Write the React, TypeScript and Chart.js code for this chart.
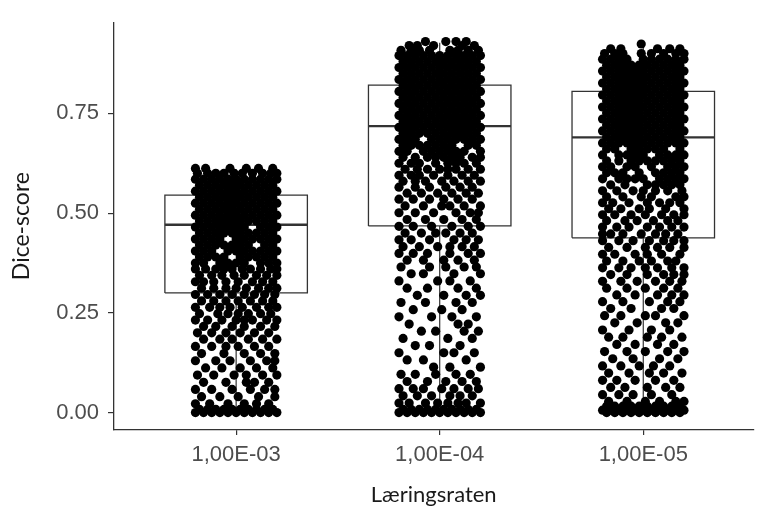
import React, { useEffect, useRef } from 'react';
import { Chart, registerables } from 'chart.js';

Chart.register(...registerables);

// ---- data ----
const categories = ['1,00E-03', '1,00E-04', '1,00E-05'];
const yTickValues = [0, 0.25, 0.5, 0.75];
const q1 = [0.3, 0.468, 0.438];
const medians = [0.471, 0.718, 0.69];
const q3 = [0.545, 0.821, 0.805];
const whiskerLow = [0, 0, 0];
const whiskerHigh = [0.61, 0.927, 0.917];

// jittered observations: each row = [Dice-score, ...horizontal jitter offsets]
const g1Rows: number[][] = [
  [.612, -.2, -.15, -.03, .05, .11, .18],
  [.6, -.19, -.14, -.1, -.06, -.01, .03, .08, .13, .17, .2],
  [.585, -.2, -.16, -.12, -.08, -.04, 0, .04, .08, .12, .16, .2],
  [.57, -.18, -.14, -.1, -.06, -.02, .02, .06, .1, .14, .18],
  [.555, -.2, -.16, -.12, -.08, -.04, 0, .04, .08, .12, .16, .2],
  [.54, -.18, -.14, -.1, -.06, -.02, .02, .06, .1, .14, .18],
  [.525, -.2, -.16, -.12, -.08, -.04, 0, .04, .08, .12, .16, .2],
  [.51, -.18, -.14, -.1, -.06, -.02, .02, .06, .1, .14, .18],
  [.495, -.2, -.16, -.12, -.08, -.04, 0, .04, .08, .12, .16, .2],
  [.48, -.18, -.14, -.1, -.06, -.02, .02, .06, .1, .14, .18],
  [.465, -.2, -.16, -.12, -.08, -.04, 0, .04, .12, .16, .2],
  [.45, -.18, -.14, -.1, -.06, -.02, .02, .06, .1, .14, .18],
  [.435, -.2, -.16, -.12, -.08, 0, .04, .08, .12, .16, .2],
  [.42, -.18, -.14, -.1, -.06, -.02, .02, .06, .14, .18],
  [.405, -.2, -.16, -.12, -.04, 0, .04, .08, .12, .16, .2],
  [.39, -.18, -.14, -.1, -.06, .02, .06, .1, .14, .18],
  [.375, -.2, -.16, -.08, -.04, 0, .04, .12, .16, .2],
  [.36, -.2, -.15, -.1, -.06, -.02, .03, .07, .12, .17, .2],
  [.344, -.18, -.12, -.07, -.01, .04, .1, .15, .2],
  [.328, -.2, -.16, -.11, -.05, .01, .08, .13, .18],
  [.312, -.17, -.11, -.05, 0, .05, .11, .16, .2],
  [.296, -.2, -.14, -.08, -.02, .04, .09, .14, .19],
  [.28, -.17, -.11, -.05, .01, .07, .13, .18],
  [.264, -.2, -.13, -.08, -.03, .03, .1, .16, .2],
  [.248, -.18, -.09, -.04, .01, .06, .12, .17],
  [.232, -.2, -.14, -.07, 0, .04, .08, .15, .2],
  [.216, -.16, -.1, -.02, .04, .12, .19],
  [.2, -.19, -.12, -.05, .02, .09, .16],
  [.184, -.16, -.08, -.02, .06, .13, .2],
  [.166, -.2, -.12, -.05, .01, .09, .16],
  [.148, -.17, -.06, .04, .12, .19],
  [.13, -.2, -.1, -.03, .07, .15, .19],
  [.112, -.15, -.07, .02, .1, .18],
  [.094, -.19, -.11, -.01, .05, .13, .2],
  [.076, -.16, -.05, .05, .09, .16],
  [.058, -.2, -.12, -.02, .07, .14, .19],
  [.04, -.17, -.08, .01, .11, .19],
  [.022, -.2, -.13, -.04, .04, .1, .16],
  [.008, -.18, -.14, -.1, -.06, -.02, .02, .06, .1, .14, .18],
  [0, -.2, -.16, -.12, -.08, -.04, 0, .04, .08, .12, .16, .2],
];

const g2Rows: number[][] = [
  [.93, -.07, .03, .08, .13],
  [.92, -.15, -.11, -.03, .11, .17],
  [.908, -.19, -.14, -.1, -.05, .05, .09, .14, .19],
  [.895, -.2, -.16, -.12, -.08, -.04, 0, .04, .08, .12, .16, .2],
  [.88, -.18, -.14, -.1, -.06, -.02, .02, .06, .1, .14, .18],
  [.865, -.2, -.16, -.12, -.08, -.04, 0, .04, .08, .12, .16, .2],
  [.85, -.18, -.14, -.1, -.06, -.02, .02, .06, .1, .14, .18],
  [.835, -.2, -.16, -.12, -.08, -.04, 0, .04, .08, .12, .16, .2],
  [.82, -.18, -.14, -.1, -.06, -.02, .02, .06, .1, .14, .18],
  [.805, -.2, -.16, -.12, -.08, -.04, 0, .04, .08, .12, .16, .2],
  [.79, -.18, -.14, -.1, -.06, -.02, .02, .06, .1, .14, .18],
  [.775, -.2, -.16, -.12, -.08, -.04, 0, .04, .08, .12, .16, .2],
  [.76, -.18, -.14, -.1, -.06, -.02, .02, .06, .1, .14, .18],
  [.745, -.2, -.16, -.12, -.08, -.04, 0, .04, .08, .12, .16, .2],
  [.73, -.18, -.14, -.1, -.06, -.02, .02, .06, .1, .14, .18],
  [.715, -.2, -.16, -.12, -.08, -.04, 0, .04, .08, .12, .16, .2],
  [.7, -.18, -.14, -.1, -.06, -.02, .02, .06, .1, .14, .18],
  [.685, -.2, -.16, -.12, -.04, 0, .04, .08, .12, .16, .2],
  [.67, -.18, -.14, -.1, -.06, -.02, .02, .06, .14, .18],
  [.655, -.2, -.16, -.08, -.04, 0, .04, .08, .12, .2],
  [.64, -.18, -.12, -.06, -.02, .02, .06, .1, .16, .2],
  [.625, -.2, -.14, -.1, -.02, .04, .08, .12, .18],
  [.61, -.17, -.11, -.06, 0, .04, .08, .14, .2],
  [.595, -.2, -.14, -.1, -.03, .04, .11, .17],
  [.58, -.18, -.12, -.07, .01, .07, .14, .2],
  [.565, -.2, -.12, -.05, .03, .1, .16],
  [.55, -.16, -.09, -.01, .06, .13, .19],
  [.535, -.2, -.13, -.05, .02, .09, .16],
  [.518, -.17, -.08, .01, .05, .12, .2],
  [.501, -.2, -.12, -.03, .08, .15, .19],
  [.484, -.16, -.07, .02, .11, .18],
  [.467, -.2, -.13, -.04, .06, .14, .2],
  [.45, -.17, -.09, -.02, .03, .1, .16],
  [.433, -.2, -.14, -.05, .07, .13, .19],
  [.416, -.18, -.1, -.01, .05, .11, .17],
  [.399, -.2, -.13, -.06, .05, .14, .2],
  [.382, -.16, -.08, .02, .09, .17],
  [.365, -.19, -.05, .03, .12, .18],
  [.348, -.14, -.08, .07, .2],
  [.33, -.2, -.01, .05, .15],
  [.312, -.16, -.06, .09, .18],
  [.294, -.11, .02, .13, .2],
  [.276, -.19, -.07, .08, .16],
  [.258, -.13, .01, .11],
  [.24, -.2, -.04, .06, .18],
  [.222, -.15, .09, .14],
  [.204, -.09, -.02, .12, .19],
  [.186, -.18, .04, .16],
  [.168, -.12, -.05, .1],
  [.15, -.2, .02, .07, .17],
  [.132, -.16, -.08, .13],
  [.114, -.03, .05, .2],
  [.096, -.19, -.12, -.02, .08, .15],
  [.078, -.16, -.06, .03, .11, .18],
  [.06, -.2, -.13, -.08, .01, .07, .14, .19],
  [.042, -.18, -.11, -.04, .05, .1, .16],
  [.024, -.2, -.15, -.07, -.01, .04, .09, .13, .2],
  [.008, -.18, -.14, -.1, -.06, -.02, .02, .06, .1, .14, .18],
  [0, -.2, -.16, -.12, -.08, -.04, 0, .04, .08, .12, .16, .2],
];

const g3Rows: number[][] = [
  [.924, -.01],
  [.912, -.16, -.11, .07, .13, .18],
  [.9, -.19, -.14, -.1, -.01, .04, .1, .16, .2],
  [.886, -.2, -.16, -.12, -.08, 0, .04, .08, .12, .16, .2],
  [.871, -.18, -.14, -.1, -.06, -.02, .02, .06, .1, .14, .18],
  [.856, -.2, -.16, -.12, -.08, -.04, 0, .04, .08, .12, .16, .2],
  [.841, -.18, -.14, -.1, -.06, -.02, .02, .06, .1, .14, .18],
  [.826, -.2, -.16, -.12, -.08, -.04, 0, .04, .08, .12, .16, .2],
  [.811, -.18, -.14, -.1, -.06, -.02, .02, .06, .1, .14, .18],
  [.796, -.2, -.16, -.12, -.08, -.04, 0, .04, .08, .12, .16, .2],
  [.781, -.18, -.14, -.1, -.06, -.02, .02, .06, .1, .14, .18],
  [.766, -.2, -.16, -.12, -.08, -.04, 0, .04, .08, .12, .16, .2],
  [.751, -.18, -.14, -.1, -.06, -.02, .02, .06, .1, .14, .18],
  [.736, -.2, -.16, -.12, -.08, -.04, 0, .04, .08, .12, .16, .2],
  [.721, -.18, -.14, -.1, -.06, -.02, .02, .06, .1, .14, .18],
  [.706, -.2, -.16, -.12, -.08, -.04, 0, .04, .08, .12, .16, .2],
  [.691, -.18, -.14, -.1, -.06, -.02, .02, .06, .1, .14, .18],
  [.676, -.2, -.16, -.12, -.08, -.04, 0, .04, .08, .12, .16, .2],
  [.661, -.18, -.14, -.06, -.02, .02, .06, .1, .18],
  [.646, -.2, -.12, -.08, -.04, 0, .08, .12, .16, .2],
  [.631, -.18, -.12, -.06, -.02, .02, .06, .1, .14, .18],
  [.616, -.2, -.16, -.08, -.04, .04, .12, .16, .2],
  [.601, -.18, -.14, -.1, -.02, .06, .1, .14, .18],
  [.586, -.2, -.12, -.08, -.04, 0, .08, .12, .16, .2],
  [.571, -.16, -.09, .02, .06, .1, .14, .18],
  [.556, -.2, -.13, -.05, 0, .06, .12, .19],
  [.541, -.18, -.1, -.01, .04, .16, .2],
  [.526, -.2, -.15, -.07, .02, .08, .13, .18],
  [.511, -.17, -.11, -.02, .03, .11, .2],
  [.496, -.2, -.14, -.06, .01, .09, .15, .2],
  [.481, -.18, -.09, -.03, .05, .12, .17],
  [.465, -.2, -.13, -.07, .02, .08, .14, .2],
  [.448, -.2, -.16, -.1, -.01, .06, .11, .17],
  [.431, -.2, -.12, -.05, .03, .1, .15, .2],
  [.414, -.17, -.08, .01, .07, .13, .2],
  [.397, -.2, -.14, -.04, .02, .09, .18],
  [.38, -.18, -.1, -.02, .04, .12, .16],
  [.363, -.2, -.12, -.06, .01, .07, .14, .2],
  [.346, -.16, -.08, .02, .1, .15, .2],
  [.329, -.2, -.11, -.03, .06, .13, .19],
  [.312, -.18, -.08, .01, .1, .17],
  [.295, -.13, -.04, .07, .14, .2],
  [.278, -.2, -.1, .03, .12, .18],
  [.261, -.16, -.06, .09, .15],
  [.243, -.19, -.11, .01, .06, .2],
  [.225, -.14, -.03, .11, .17],
  [.207, -.2, -.07, .04, .13],
  [.189, -.17, -.1, .02, .09, .19],
  [.171, -.13, -.04, .07, .15],
  [.153, -.19, -.08, .01, .12, .2],
  [.135, -.15, -.05, .08, .17],
  [.117, -.2, -.11, -.02, .05, .13],
  [.099, -.17, -.07, .03, .1, .19],
  [.081, -.2, -.13, -.04, .06, .15],
  [.063, -.16, -.09, .02, .11, .18],
  [.045, -.2, -.12, -.05, .04, .14],
  [.028, -.17, -.08, .01, .08, .16, .2],
  [.016, -.18, -.14, -.1, -.06, -.02, .02, .06, .1, .14, .18],
  [.006, -.2, -.16, -.12, -.08, -.04, 0, .04, .08, .12, .16, .2],
  [0, -.18, -.14, -.1, -.06, -.02, .02, .06, .1, .14, .18],
];

const groupRows = [g1Rows, g2Rows, g3Rows];

// ---- styling ----
const BOX_HALF_WIDTH = 0.35;
const LINE_COLOR = '#333333';
const TICK_FONT = '"Liberation Sans", Arial, sans-serif';
const TITLE_FONT = 'Lato, "Open Sans", sans-serif';

export default function App() {
  const canvasRef = useRef<HTMLCanvasElement | null>(null);

  useEffect(() => {
    const canvas = canvasRef.current;
    if (!canvas) return;

    const points: { x: number; y: number }[] = [];
    groupRows.forEach((rows, gi) => {
      rows.forEach(([score, ...offsets]) => {
        offsets.forEach((dx) => points.push({ x: gi + 1 + dx, y: score }));
      });
    });

    const boxDatasets: any[] = [];
    categories.forEach((_, i) => {
      const c = i + 1;
      const l = c - BOX_HALF_WIDTH;
      const r = c + BOX_HALF_WIDTH;
      const common = {
        type: 'line',
        showLine: true,
        pointRadius: 0,
        borderColor: LINE_COLOR,
        fill: false,
        order: 2,
      };
      boxDatasets.push({
        ...common,
        borderWidth: 1.3,
        data: [
          { x: l, y: q1[i] },
          { x: r, y: q1[i] },
          { x: r, y: q3[i] },
          { x: l, y: q3[i] },
          { x: l, y: q1[i] },
        ],
      });
      boxDatasets.push({
        ...common,
        borderWidth: 2.4,
        data: [
          { x: l, y: medians[i] },
          { x: r, y: medians[i] },
        ],
      });
      boxDatasets.push({
        ...common,
        borderWidth: 1.2,
        data: [
          { x: c, y: q3[i] },
          { x: c, y: whiskerHigh[i] },
        ],
      });
      boxDatasets.push({
        ...common,
        borderWidth: 1.2,
        data: [
          { x: c, y: q1[i] },
          { x: c, y: whiskerLow[i] },
        ],
      });
    });

    const chart = new Chart(canvas, {
      type: 'scatter',
      data: {
        datasets: [
          {
            data: points,
            pointRadius: 4.6,
            pointBackgroundColor: '#000000',
            pointBorderWidth: 0,
            order: 0,
          } as any,
          ...boxDatasets,
        ],
      },
      options: {
        animation: false,
        responsive: false,
        devicePixelRatio: 1,
        layout: { padding: { top: 15, left: 0, right: 0, bottom: 0 } },
        plugins: {
          legend: { display: false },
          tooltip: { enabled: false },
        },
        scales: {
          x: {
            type: 'linear',
            min: 0.4,
            max: 3.541,
            afterBuildTicks: (scale: any) => {
              scale.ticks = categories.map((_, i) => ({ value: i + 1 }));
            },
            afterFit: (scale: any) => {
              scale.height = 81;
            },
            ticks: {
              autoSkip: false,
              maxRotation: 0,
              padding: 7,
              color: '#4d4d4d',
              font: { family: TICK_FONT, size: 22 },
              callback: (v: any) => categories[Math.round(Number(v)) - 1] ?? '',
            },
            grid: {
              display: true,
              drawOnChartArea: false,
              drawTicks: true,
              tickLength: 5,
              color: LINE_COLOR,
              lineWidth: 1.2,
            },
            border: { display: true, color: LINE_COLOR, width: 1.3 },
            title: {
              display: true,
              text: 'Læringsraten',
              color: '#1a1a1a',
              font: { family: TITLE_FONT, size: 22 },
              padding: { top: 0, bottom: 3 },
            },
          },
          y: {
            type: 'linear',
            min: -0.0436,
            max: 0.9786,
            afterBuildTicks: (scale: any) => {
              scale.ticks = yTickValues.map((v) => ({ value: v }));
            },
            afterFit: (scale: any) => {
              scale.width = 114;
            },
            ticks: {
              padding: 9,
              color: '#4d4d4d',
              font: { family: TICK_FONT, size: 22 },
              callback: (v: any) => Number(v).toFixed(2),
            },
            grid: {
              display: true,
              drawOnChartArea: false,
              drawTicks: true,
              tickLength: 6,
              color: LINE_COLOR,
              lineWidth: 1.2,
            },
            border: { display: true, color: LINE_COLOR, width: 1.3 },
            title: {
              display: true,
              text: 'Dice-score',
              color: '#1a1a1a',
              font: { family: TITLE_FONT, size: 23 },
              padding: { top: 8, bottom: 0 },
            },
          },
        },
      } as any,
    });

    return () => chart.destroy();
  }, []);

  return (
    <div style={{ position: 'absolute', left: 0, top: 0, width: 758, height: 511, background: '#ffffff' }}>
      <canvas ref={canvasRef} width={758} height={511} />
    </div>
  );
}
